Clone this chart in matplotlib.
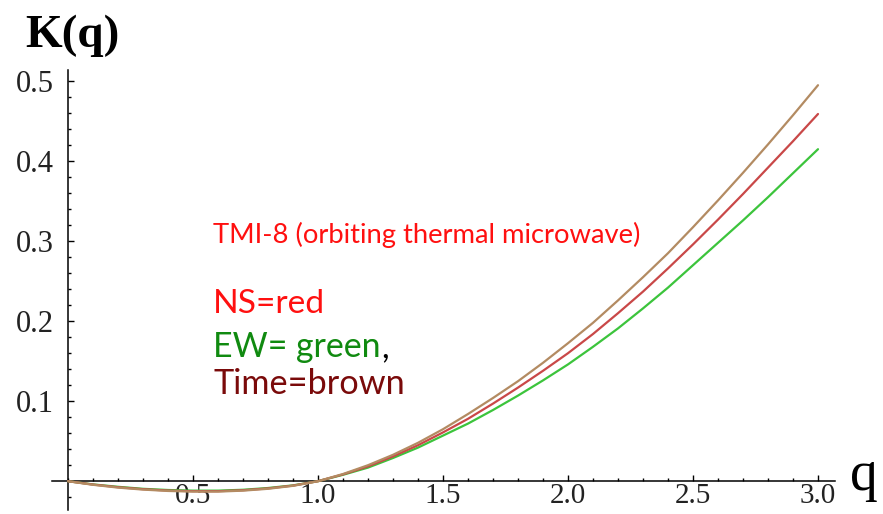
import numpy as np
import matplotlib
matplotlib.use("Agg")
import matplotlib.pyplot as plt
from matplotlib.ticker import MultipleLocator, FixedLocator, FixedFormatter

# ---- data ----
q = [0.0, 0.1, 0.2, 0.3, 0.4, 0.5, 0.6, 0.7, 0.8, 0.9, 1.0,
     1.1, 1.2, 1.3, 1.4, 1.5, 1.6, 1.7, 1.8, 1.9, 2.0,
     2.1, 2.2, 2.3, 2.4, 2.5, 2.6, 2.7, 2.8, 2.9, 3.0]
k_time = [0.0, -0.0045, -0.0080, -0.0105, -0.0122, -0.0130, -0.0130, -0.0118, -0.0095, -0.0058, 0.0,
          0.009, 0.020, 0.033, 0.048, 0.065, 0.084, 0.104, 0.125, 0.148, 0.1725,
          0.198, 0.226, 0.255, 0.285, 0.3175, 0.351, 0.3855, 0.421, 0.4575, 0.495]
k_ns = [0.0, -0.0042, -0.0075, -0.0100, -0.0117, -0.0125, -0.0125, -0.0113, -0.0090, -0.0055, 0.0,
        0.0085, 0.0185, 0.031, 0.045, 0.061, 0.078, 0.097, 0.117, 0.138, 0.160,
        0.184, 0.210, 0.237, 0.266, 0.296, 0.327, 0.359, 0.392, 0.425, 0.459]
k_ew = [0.0, -0.0040, -0.0070, -0.0095, -0.0110, -0.0118, -0.0118, -0.0107, -0.0085, -0.0052, 0.0,
        0.008, 0.017, 0.029, 0.042, 0.057, 0.072, 0.089, 0.107, 0.126, 0.146,
        0.168, 0.191, 0.216, 0.242, 0.270, 0.298, 0.326, 0.355, 0.385, 0.415]

x_ticks = [0.5, 1.0, 1.5, 2.0, 2.5, 3.0]
x_tick_labels = ["0.5", "1.0", "1.5", "2.0", "2.5", "3.0"]
y_ticks = [0.1, 0.2, 0.3, 0.4, 0.5]
y_tick_labels = ["0.1", "0.2", "0.3", "0.4", "0.5"]

W, H = 883, 514
fig = plt.figure(figsize=(W / 100, H / 100), dpi=100)
fig.patch.set_facecolor("white")

# axes placement in pixels: left 52, right 835, top 70, bottom 510
ax = fig.add_axes([52 / W, (H - 510) / H, (835 - 52) / W, (510 - 70) / H])
ax.set_xlim(-0.064, 3.068)
ax.set_ylim(-0.036, 0.514)

ax.plot(q, k_ew, color="#3CC43C", lw=1.6, solid_capstyle="round", zorder=3)
ax.plot(q, k_ns, color="#C94848", lw=1.6, solid_capstyle="round", zorder=4)
ax.plot(q, k_time, color="#B38B62", lw=1.6, solid_capstyle="round", zorder=5)

for s in ["top", "right"]:
    ax.spines[s].set_visible(False)
ax.spines["left"].set_position(("data", 0))
ax.spines["bottom"].set_position(("data", 0))
for s in ["left", "bottom"]:
    ax.spines[s].set_linewidth(1.1)
    ax.spines[s].set_color("black")

ax.xaxis.set_major_locator(FixedLocator(x_ticks))
ax.xaxis.set_major_formatter(FixedFormatter(x_tick_labels))
ax.xaxis.set_minor_locator(MultipleLocator(0.1))
ax.yaxis.set_major_locator(FixedLocator(y_ticks))
ax.yaxis.set_major_formatter(FixedFormatter(y_tick_labels))
ax.yaxis.set_minor_locator(MultipleLocator(0.02))

serif = "Liberation Serif"
ax.tick_params(axis="both", which="major", direction="in", length=4.5, width=1.0,
               colors="black")
ax.tick_params(axis="both", which="minor", direction="in", length=2.5, width=1.0)
ax.tick_params(axis="x", which="major", pad=1.5, labelsize=21)
ax.tick_params(axis="y", which="major", pad=10, labelsize=22)
for lab in ax.get_xticklabels() + ax.get_yticklabels():
    lab.set_fontfamily(serif)
    lab.set_color("#222222")

# axis labels
fig.text(25 / W, 1 - 47 / H, "K(q)", fontfamily=serif, fontweight="bold",
         fontsize=34, ha="left", va="baseline")
fig.text(850 / W, 1 - 490 / H, "q", fontfamily=serif, fontsize=40,
         ha="left", va="baseline")

renderer = fig.canvas.get_renderer()


def fitted_text(x, y, s, target_w, color, family="Lato"):
    t = fig.text(x / W, 1 - y / H, s, fontfamily=family, fontsize=20,
                 color=color, ha="left", va="baseline")
    w = t.get_window_extent(renderer).width
    t.set_fontsize(20 * target_w / w)
    return t


fitted_text(213, 243, "TMI-8 (orbiting thermal microwave)", 428, "#FF1010")
fitted_text(213, 313, "NS=red", 112, "#FF1010")
tg = fitted_text(213, 357, "EW= green", 168, "#108A10")
gw = tg.get_window_extent(renderer)
fig.text((gw.x1 + 1) / W, 1 - 357 / H, ",", fontfamily="Lato",
         fontsize=tg.get_fontsize(), color="black", ha="left", va="baseline")
fitted_text(213, 394, "Time=brown", 192, "#7A0A0A")

fig.savefig("out.png", dpi=100, facecolor="white")
